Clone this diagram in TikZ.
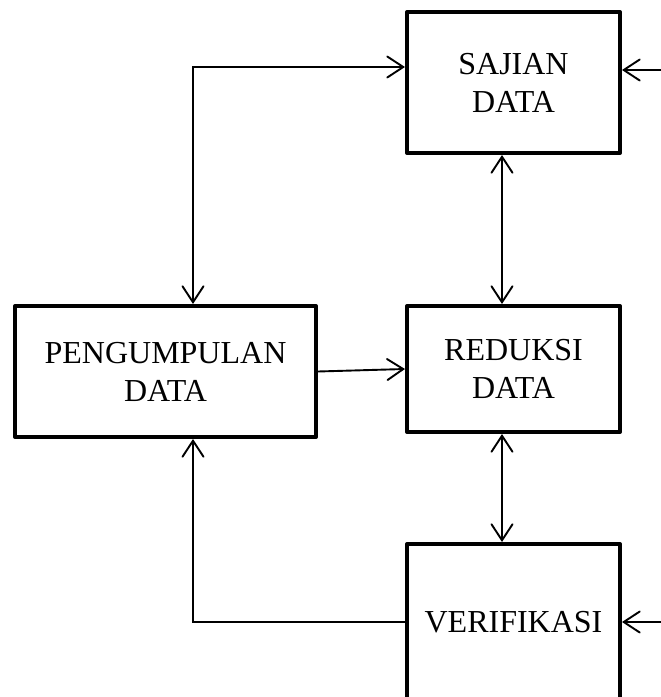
\documentclass[tikz,border=0pt]{standalone}
\usepackage{fontspec}
\setmainfont{Liberation Serif}
\usetikzlibrary{arrows.meta}
\begin{document}
\begin{tikzpicture}[x=1pt,y=-1pt,
  box/.style={draw, line width=4pt, line join=round, align=center, inner sep=0pt,
    font=\fontsize{32}{38}\selectfont},
  conn/.style={line width=1.9pt, line join=miter},
  >={Straight Barb[length=16pt,width=21pt,line cap=round]}
]
\useasboundingbox (0,0) rectangle (661,697);
\clip (0,0) rectangle (661,697);
\node[box, minimum width=213pt, minimum height=141pt] (saj) at (513.5,82.5) {SAJIAN\\DATA};
\node[box, minimum width=213pt, minimum height=126pt] (red) at (513.5,369) {REDUKSI\\DATA};
\node[box, minimum width=301pt, minimum height=131pt] (peng) at (165.5,371.5) {PENGUMPULAN\\DATA};
\node[box, minimum width=213pt, minimum height=156pt] (ver) at (513.5,622) {VERIFIKASI};
\coordinate (cx) at (502,0);
\coordinate (lx) at (193,0);
\coordinate (ly) at (0,67);
\coordinate (in1) at (662,70);
\coordinate (in2) at (662,622);
\draw[conn,<->] (saj.south -| cx) -- (red.north -| cx);
\draw[conn,<->] (red.south -| cx) -- (ver.north -| cx);
\draw[conn,->] (peng.east) -- (red.west);
\draw[conn,<->] (peng.north -| lx) |- (saj.west |- ly);
\draw[conn,->] (ver.west |- in2) -| (peng.south -| lx);
\draw[conn,->] (in1) -- (saj.east |- in1);
\draw[conn,->] (in2) -- (ver.east |- in2);
\end{tikzpicture}
\end{document}
